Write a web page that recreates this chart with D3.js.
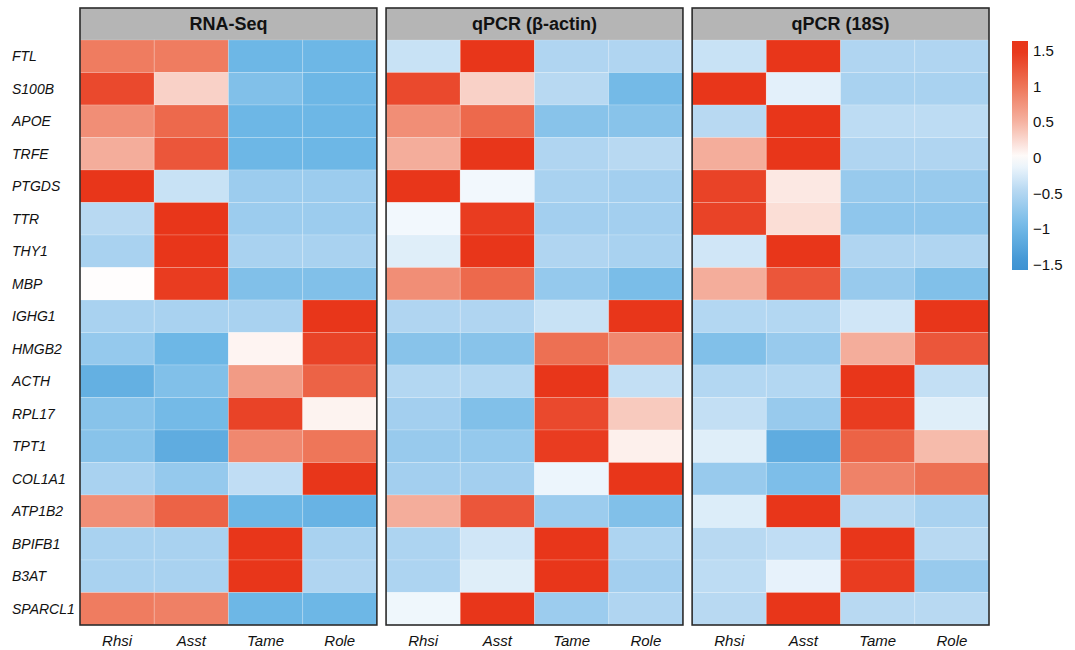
<!DOCTYPE html>
<html>
<head>
<meta charset="utf-8">
<script src="https://cdn.jsdelivr.net/npm/d3@7"></script>
<style>
  body { margin: 0; background: #fff; }
  text { font-family: "Liberation Sans", Arial, sans-serif; }
</style>
</head>
<body>
<svg id="chart" width="1075" height="650"></svg>
<script>
////////////////////////////////////////////////////////////////////////////////////
// Data
var genes = ["FTL", "S100B", "APOE", "TRFE", "PTGDS", "TTR", "THY1", "MBP", "IGHG1",
             "HMGB2", "ACTH", "RPL17", "TPT1", "COL1A1", "ATP1B2", "BPIFB1", "B3AT", "SPARCL1"];
var samples = ["Rhsi", "Asst", "Tame", "Role"];
var panels = ["RNA-Seq", "qPCR (\u03b2-actin)", "qPCR (18S)"];
var legendTicks = [1.5, 1, 0.5, 0, -0.5, -1, -1.5];

// one row per gene, values for Rhsi, Asst, Tame, Role
var rnaSeq = [
  [0.95, 0.95, -1.0, -1.0],
  [1.35, 0.3, -0.85, -1.0],
  [0.8, 1.1, -1.0, -1.0],
  [0.55, 1.25, -1.0, -1.0],
  [1.5, -0.35, -0.65, -0.65],
  [-0.45, 1.5, -0.65, -0.65],
  [-0.55, 1.5, -0.55, -0.55],
  [0.01, 1.45, -0.85, -0.85],
  [-0.55, -0.55, -0.55, 1.5],
  [-0.7, -1.0, 0.07, 1.4],
  [-1.1, -0.85, 0.7, 1.15],
  [-0.8, -0.95, 1.4, 0.08],
  [-0.8, -1.15, 0.85, 1.0],
  [-0.55, -0.7, -0.4, 1.5],
  [0.8, 1.15, -1.0, -1.05],
  [-0.55, -0.55, 1.5, -0.55],
  [-0.55, -0.55, 1.5, -0.5],
  [0.95, 0.92, -1.0, -1.0]
];
var qpcrActin = [
  [-0.35, 1.5, -0.5, -0.5],
  [1.35, 0.3, -0.45, -0.95],
  [0.8, 1.1, -0.8, -0.8],
  [0.55, 1.5, -0.5, -0.45],
  [1.5, -0.08, -0.55, -0.6],
  [-0.08, 1.45, -0.6, -0.6],
  [-0.2, 1.5, -0.5, -0.55],
  [0.8, 1.1, -0.7, -0.9],
  [-0.5, -0.5, -0.35, 1.5],
  [-0.8, -0.8, 1.05, 0.85],
  [-0.48, -0.48, 1.5, -0.38],
  [-0.6, -0.85, 1.35, 0.35],
  [-0.68, -0.7, 1.45, 0.1],
  [-0.6, -0.6, -0.12, 1.5],
  [0.55, 1.25, -0.65, -0.85],
  [-0.52, -0.3, 1.5, -0.52],
  [-0.52, -0.2, 1.5, -0.6],
  [-0.1, 1.5, -0.65, -0.5]
];
var qpcr18S = [
  [-0.35, 1.5, -0.5, -0.5],
  [1.5, -0.18, -0.55, -0.55],
  [-0.45, 1.5, -0.42, -0.42],
  [0.55, 1.5, -0.5, -0.5],
  [1.4, 0.15, -0.68, -0.68],
  [1.4, 0.22, -0.75, -0.75],
  [-0.3, 1.5, -0.5, -0.5],
  [0.55, 1.25, -0.68, -0.85],
  [-0.48, -0.48, -0.3, 1.5],
  [-0.85, -0.68, 0.55, 1.25],
  [-0.48, -0.48, 1.5, -0.38],
  [-0.38, -0.68, 1.45, -0.2],
  [-0.2, -1.15, 1.15, 0.45],
  [-0.68, -0.88, 0.9, 1.05],
  [-0.22, 1.5, -0.45, -0.55],
  [-0.45, -0.4, 1.5, -0.45],
  [-0.42, -0.15, 1.45, -0.68],
  [-0.45, 1.5, -0.45, -0.45]
];
var panelData = [rnaSeq, qpcrActin, qpcr18S];

////////////////////////////////////////////////////////////////////////////////////
// Scales
var svg = d3.select("#chart");

var color = d3.scaleLinear()
  .domain([-1.5, -1, -0.5, 0, 0.5, 1, 1.5])
  .range(["#3e92d2", "#6db7e6", "#b0d5f1", "#ffffff", "#f5b3a2", "#ee7659", "#e8361a"])
  .clamp(true);

var panelX = d3.scaleBand().domain(d3.range(panels.length)).range([80, 989]).paddingInner(0.03);
var topY = 8, headH = 32, bottomY = 625;
var yScale = d3.scaleBand().domain(genes).range([topY + headH, bottomY]);

////////////////////////////////////////////////////////////////////////////////////
// Panels
panels.forEach(function(name, p) {
  var x0 = panelX(p), w = panelX.bandwidth();
  var xScale = d3.scaleBand().domain(samples).range([x0, x0 + w]);
  var g = svg.append("g").attr("class", "panel");

  // header strip
  g.append("rect")
   .attr("x", x0).attr("y", topY)
   .attr("width", w).attr("height", headH)
   .style("fill", "#b5b5b5");
  g.append("text")
   .attr("x", x0 + w / 2).attr("y", topY + headH / 2 + 6)
   .attr("text-anchor", "middle")
   .style("font-size", "18px").style("font-weight", "bold").style("fill", "#111")
   .text(name);

  // cells
  var cells = [];
  panelData[p].forEach(function(row, i) {
    row.forEach(function(v, j) { cells.push({gene: genes[i], sample: samples[j], value: v}); });
  });
  g.selectAll(".cell")
   .data(cells)
   .enter()
   .append("rect")
   .attr("class", "cell")
   .attr("x", function(d) { return xScale(d.sample); })
   .attr("y", function(d) { return yScale(d.gene); })
   .attr("width", xScale.bandwidth())
   .attr("height", yScale.bandwidth())
   .style("fill", function(d) { return color(d.value); })
   .style("stroke", "#ffffff").style("stroke-opacity", 0.18).style("stroke-width", 1);

  // column labels
  g.selectAll(".colLab")
   .data(samples)
   .enter()
   .append("text")
   .attr("x", function(d) { return xScale(d) + xScale.bandwidth() / 2; })
   .attr("y", 646)
   .attr("text-anchor", "middle")
   .style("font-size", "15px").style("font-style", "italic").style("fill", "#111")
   .text(function(d) { return d; });

  // frame
  g.append("rect")
   .attr("x", x0).attr("y", topY)
   .attr("width", w).attr("height", bottomY - topY)
   .style("fill", "none").style("stroke", "#2b2b2b").style("stroke-width", 1.6);
});

// row labels
svg.selectAll(".rowLab")
   .data(genes)
   .enter()
   .append("text")
   .attr("x", 12)
   .attr("y", function(d) { return yScale(d) + yScale.bandwidth() / 2 + 5; })
   .style("font-size", "14px").style("font-style", "italic").style("fill", "#111")
   .text(function(d) { return d; });

////////////////////////////////////////////////////////////////////////////////////
// Colour legend
var legY = d3.scaleLinear().domain([1.5, -1.5]).range([51, 265]);
var legLo = legY.invert(270), legHi = legY.invert(41);
var defs = svg.append("defs");
var grad = defs.append("linearGradient").attr("id", "legGrad")
               .attr("x1", 0).attr("y1", 0).attr("x2", 0).attr("y2", 1);
d3.range(0, 1.0001, 0.05).forEach(function(t) {
  grad.append("stop")
      .attr("offset", t)
      .attr("stop-color", color(legHi + (legLo - legHi) * t));
});
svg.append("rect")
   .attr("x", 1012).attr("y", legY(legHi))
   .attr("width", 16).attr("height", legY(legLo) - legY(legHi))
   .style("fill", "url(#legGrad)");
svg.selectAll(".legLab")
   .data(legendTicks)
   .enter()
   .append("text")
   .attr("x", 1033)
   .attr("y", function(d) { return legY(d) + 5; })
   .style("font-size", "15px").style("fill", "#111")
   .text(function(d) { return d3.format("")(d).replace("-", "\u2212"); });
</script>
</body>
</html>
